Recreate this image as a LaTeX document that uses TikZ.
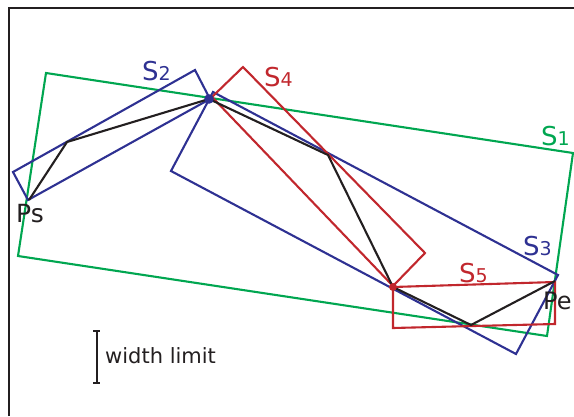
\documentclass[tikz,border=0pt]{standalone}
\usepackage{fontspec}
\setmainfont{DejaVu Sans}
\usetikzlibrary{arrows.meta, positioning, calc}
\definecolor{pathgreen}{RGB}{0,166,80}
\definecolor{pathblue}{RGB}{46,49,146}
\definecolor{pathred}{RGB}{193,39,45}
\definecolor{inkblack}{RGB}{35,31,32}
\newcommand{\idxsize}{\fontsize{19}{19}\selectfont}

\begin{document}
\begin{tikzpicture}[x=1pt, y=-1pt,
    seg/.style={line width=2.1pt},
    lbl/.style={anchor=base west, inner sep=0pt, font=\fontsize{26}{26}\selectfont}]
    \useasboundingbox (0,0) rectangle (574,416);

    % --- Cadre ---
    \draw[inkblack, line width=2.5pt] (9,416) -- (9,8) -- (574,8);

    % --- Points du chemin ---
    \coordinate (Ps) at (29,200);
    \coordinate (p1) at (67,142);
    \coordinate (p2) at (209,99);
    \coordinate (p3) at (328,155);
    \coordinate (p4) at (393,287);
    \coordinate (p5) at (471,325);
    \coordinate (Pe) at (555,281);

    % --- Segment S1 ---
    \draw[seg, pathgreen] (46,73) -- (573,153) -- (547,336) -- (18,256) -- cycle;

    % --- Segments S2 et S3 ---
    \draw[seg, pathblue] (13,172) -- (195,70) -- (210,99) -- (28,200) -- cycle;
    \draw[seg, pathblue] (213,92) -- (558,275) -- (516,354) -- (171,171) -- cycle;

    % --- Segments S4 et S5 ---
    \draw[seg, pathred] (243,67) -- (425,253) -- (393,286) -- (212,97) -- cycle;
    \draw[seg, pathred] (393,287) -- (555,282) -- (555,324) -- (393,328) -- cycle;

    % --- Chemin ---
    \draw[seg, inkblack]
        (Ps) -- (p1) -- (p2) -- (p3) -- (p4) -- (p5) -- (Pe);
    \fill[pathblue] (p2) circle (4.8);
    \fill[pathred] (p4) circle (4);

    % --- Etiquettes ---
    \node[lbl, pathgreen] (lblS1) at (541,145) {S{\idxsize 1}};
    \node[lbl, pathblue] (lblS2) at (142,80) {S{\idxsize 2}};
    \node[lbl, pathblue] (lblS3) at (523,255) {S{\idxsize 3}};
    \node[lbl, pathred] (lblS4) at (264,86) {S{\idxsize 4}};
    \node[lbl, pathred] (lblS5) at (459,282) {S{\idxsize 5}};
    \node[lbl, inkblack, font=\fontsize{25}{25}\selectfont] (lblPs) at (16,222) {Ps};
    \node[lbl, inkblack, font=\fontsize{24}{24}\selectfont] (lblPe) at (543,309) {Pe};

    % --- Limite de largeur ---
    \coordinate (wlTop) at (96.5,331);
    \coordinate (wlBot) at (96.5,383);
    \draw[inkblack, line width=2pt]
        ($(wlTop)+(-3.5,0)$) -- ($(wlTop)+(3.5,0)$)
        (wlTop) -- (wlBot)
        ($(wlBot)+(-3.5,0)$) -- ($(wlBot)+(3.5,0)$);
    \node[lbl, inkblack, font=\fontsize{21}{21}\selectfont] (lblWidth) at (105,363) {width limit};
\end{tikzpicture}
\end{document}
